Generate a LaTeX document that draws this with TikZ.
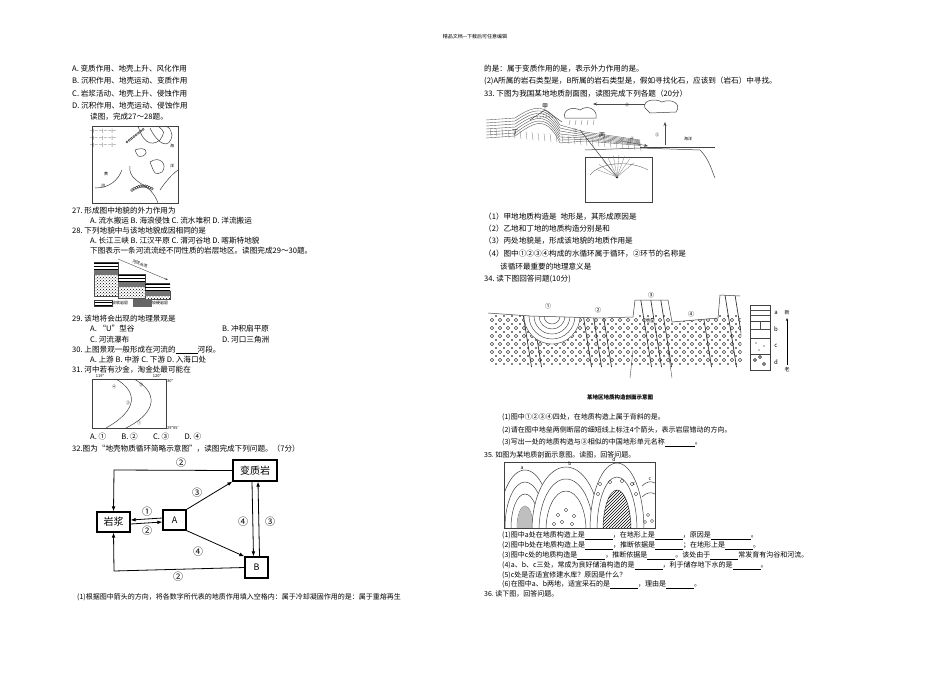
\documentclass[tikz,border=0pt]{standalone}
\usepackage{fontspec}
\setmainfont{Noto Sans CJK SC}
\usetikzlibrary{patterns,arrows.meta}
\begin{document}
\begin{tikzpicture}[x=1pt,y=-1pt,
  t/.style={anchor=west,inner sep=0pt,font=\fontsize{7.6}{8}\selectfont,text=black},
  ts/.style={anchor=west,inner sep=0pt,font=\fontsize{7}{8}\selectfont,text=black},
  tiny/.style={inner sep=0pt,font=\fontsize{4}{4}\selectfont},
  box/.style={draw,very thick,inner sep=2pt,minimum height=20pt},
  arr/.style={thick,-{Latex[length=5pt]}},
  lab/.style={inner sep=0pt,font=\fontsize{10}{10}\selectfont},
  fig/.style={draw=black!75,line width=0.5pt}]
\useasboundingbox (0,0) rectangle (950,672);
\fill[white] (0,0) rectangle (950,672);
\node[inner sep=0pt,font=\fontsize{5}{5}\selectfont] (hdr) at (475,37) {精品文档---下载后可任意编辑};
% ---------- left column ----------
\node[t] (l1) at (72,69) {A.\ 变质作用、地壳上升、风化作用};
\node[t] (l2) at (72,81) {B.\ 沉积作用、地壳运动、变质作用};
\node[t] (l3) at (72,94) {C.\ 岩浆活动、地壳上升、侵蚀作用};
\node[t] (l4) at (72,106) {D.\ 沉积作用、地壳运动、侵蚀作用};
\node[t] (l5) at (90,117) {读图，完成27～28题。};
% map
\draw[fig] (92,126) rectangle (178,203);
\foreach \yy in {131,138,145}{\node[tiny] at (103,\yy) {—|— —|— —|—};}
\draw[fig] (138,126) .. controls (142,140) and (150,148) .. (160,140) .. controls (165,132) .. (158,126);
\draw[fig] (150,128) .. controls (158,145) and (170,150) .. (172,135) .. controls (170,128) .. (165,126);
\draw[fig] (135,150) .. controls (145,146) and (150,152) .. (143,156) .. controls (138,157) .. (135,150);
\draw[fig] (150,162) .. controls (160,155) and (168,165) .. (162,172) .. controls (155,175) .. (150,162);
\draw[fig] (160,190) .. controls (168,178) and (175,172) .. (178,170);
\draw[fig] (122,170) .. controls (118,180) and (110,188) .. (95,188);
\draw[fig] (130,166) .. controls (128,178) and (140,182) .. (150,190) .. controls (155,196) .. (158,203);
\foreach \i in {0,...,9}{\draw[fig] ({132+2.2*\i},{190-4*sin(18*\i)}) circle (1.4);}
\foreach \i in {0,...,7}{\draw[fig] ({127+2.3*\i},{142-1.8*\i}) circle (1.1);}
\node[tiny] at (172,146) {海}; \node[tiny] at (172,166) {洋};
\node[tiny] at (106,174) {黄}; \node[tiny] at (103,186) {河};
\node[t] (q27) at (72,211) {27.\ 形成图中地貌的外力作用为};
\node[t] (q27a) at (90,221) {A.\ 流水搬运 B.\ 海浪侵蚀 C.\ 流水堆积 D.\ 洋流搬运};
\node[t] (q28) at (72,231) {28.\ 下列地貌中与该地地貌成因相同的是};
\node[t] (q28a) at (90,241) {A.\ 长江三峡 B.\ 江汉平原 C.\ 渭河谷地 D.\ 喀斯特地貌};
\node[t] (q29i) at (90,251) {下图表示一条河流流经不同性质的岩层地区。读图完成29～30题。};
% river step diagram
\foreach \xa/\xb/\ya/\yb in {94/118/262/296, 118/145/274/298, 145/170/283/299}{
  \fill[pattern=horizontal lines] (\xa,\ya) rectangle (\xb,{\ya+8});
  \fill[pattern=crosshatch dots,draw=black!70] (\xa,{\ya+8}) rectangle (\xb,\yb);
  \fill[black!55] (\xa,{\ya+8}) rectangle (\xb,{\ya+13});
}
\draw[fig] (94,262) -- (118,262) -- (118,274) -- (145,274) -- (145,283) -- (170,283);
\draw[-{Stealth[length=3pt]},black!70] (118,259) -- (168,280);
\node[tiny,rotate=-22] at (140,264) {河流水流};
\fill[pattern=horizontal lines] (94,300) rectangle (112,306); \draw[fig] (94,300) rectangle (112,306);
\node[tiny,anchor=west] at (112,303) {较软岩层};
\fill[black!60] (133,299) rectangle (152,307);
\node[tiny,anchor=west] at (152,303) {较硬岩层};
\node[t] (q29) at (72,319) {29.\ 该地将会出现的地理景观是};
\node[t] (q29a) at (90,329) {A.\ “U”型谷};
\node[t] (q29b) at (222,329) {B.\ 冲积扇平原};
\node[t] (q29c) at (90,340) {C.\ 河流瀑布};
\node[t] (q29d) at (222,340) {D.\ 河口三角洲};
\node[t] (q30) at (72,350) {30.\ 上图景观一般形成在河流的\underline{\hspace{22pt}}河段。};
\node[t] (q30a) at (90,360) {A.\ 上游 B.\ 中游 C.\ 下游 D.\ 入海口处};
\node[t] (q31) at (72,370) {31.\ 河中若有沙金，淘金处最可能在};
% latitude map
\draw[fig] (92,379) rectangle (166,428);
\node[tiny] at (100,376) {119°}; \node[tiny] at (157,376) {120°};
\node[tiny,anchor=west] at (167,381) {30°};
\node[tiny,anchor=west] at (167,428) {29°05′};
\draw[fig] (116,379) .. controls (138,392) and (138,410) .. (106,428);
\draw[fig] (134,379) .. controls (158,392) and (158,412) .. (126,428);
\node[tiny] at (114,387) {④}; \node[tiny] at (141,385) {③};
\node[tiny] at (128,403) {②}; \node[tiny] at (139,423) {①};
\node[t] (q31a) at (90,437) {A.\ ①\qquad B.\ ②\qquad C.\ ③\qquad D.\ ④};
\node[t] (q32) at (72,449) {32.图为“地壳物质循环简略示意图”，读图完成下列问题。（7分）};
% rock cycle
\node[box,minimum width=33pt,font=\fontsize{10}{10}\selectfont] (magma) at (113.5,522) {岩浆};
\node[box,minimum width=23pt,font=\fontsize{9}{9}\selectfont] (A) at (174.5,520) {A};
\node[box,minimum width=44pt,minimum height=21pt,font=\fontsize{10}{10}\selectfont] (meta) at (255,470.5) {变质岩};
\node[box,minimum width=23pt,minimum height=21pt,font=\fontsize{9}{9}\selectfont] (B) at (256.5,567.5) {B};
\coordinate (tl) at (114,470); \coordinate (bl) at (114,571);
\draw[arr] (meta.west) -- (tl) -- (magma.north);
\draw[arr] (B.west) -- (bl) -- (magma.south);
\draw[arr] ([yshift=-2pt]magma.east) -- ([yshift=-2pt]A.west);
\draw[arr] ([yshift=2pt]A.west) -- ([yshift=2pt]magma.east);
\draw[arr] (A.north east) -- (meta.south west);
\draw[arr] (A.south east) -- (B.north west);
\draw[arr] ([xshift=-3pt]meta.south) -- ([xshift=-3pt]B.north);
\draw[arr] ([xshift=3pt]B.north) -- ([xshift=3pt]meta.south);
\node[lab] at (181,463) {②}; \node[lab] at (178,577) {②};
\node[lab] at (147,512) {①}; \node[lab] at (147,531) {②};
\node[lab] at (197,493) {③}; \node[lab] at (198,552) {④};
\node[lab] at (243,522) {④}; \node[lab] at (270,522) {③};
\node[ts] (q32a) at (77,597) {(1)根据图中箭头的方向，将各数字所代表的地质作用填入空格内：属于冷却凝固作用的是：属于重熔再生};
% ---------- right column ----------
\node[t] (r1) at (484,69) {的是：属于变质作用的是，表示外力作用的是。};
\node[t] (r2) at (484,81) {(2)A所属的岩石类型是，B所属的岩石类型是，假如寻找化石，应该到（岩石）中寻找。};
\node[t] (r3) at (484,94) {33.\ 下图为我国某地地质剖面图，读图完成下列各题（20分）};
% cross section 33
\foreach \d in {0,3,...,18}{
 \draw[black!65,line width=0.4pt] (486,{120+\d}) -- (515,{118+\d}) .. controls (530,{108+\d}) and (545,{100+\d*0.6}) .. (560,{125+\d}) -- (585,{132+\d*0.5}) -- (640,{140+\d*0.3});}
\foreach \x in {490,496,...,640}{\draw[black!55,line width=0.3pt] (\x,{128+(\x-490)*0.1}) -- ++(1,8);}
\draw[fig] (530,120) -- (545,110) -- (562,122);
\fill[pattern=dots] (535,118) -- (545,111) -- (556,119) -- cycle;
\draw[fig] (585,150) -- (640,148) -- (700,150) .. controls (710,160) and (712,172) .. (715,178);
\draw[fig] (640,147) -- (715,147);
\draw[fig] (565,118) .. controls (562,110) and (572,106) .. (580,110) .. controls (588,104) and (598,110) .. (596,118) -- cycle;
\foreach \x in {570,576,...,594}{\draw[black!60,line width=0.3pt] (\x,120) -- ++(-1,5);}
\draw[fig] (645,108) .. controls (642,100) and (655,98) .. (662,102) .. controls (672,98) and (682,104) .. (676,112) -- (650,113) -- cycle;
\draw[-{Stealth[length=4pt]},black!70] (645,104) -- (593,104);
\draw[-{Stealth[length=4pt]},black!70] (665,145) -- (665,122);
\draw[-{Stealth[length=4pt]},black!70] (622,141) -- (648,146);
\draw[fig] (585,157) rectangle (652,202);
\draw[fig] (580,130) -- (617,177);
\fill (617,177) circle (1.3);
\foreach \a in {200,215,...,320}{\draw[black!50,line width=0.3pt] (617,177) -- ++(\a:22);}
\draw[black!60] (590,175) .. controls (600,162) and (630,160) .. (648,170);
\node[tiny,font=\fontsize{6}{6}\selectfont] at (545,106) {甲};
\node[tiny,font=\fontsize{6}{6}\selectfont] at (515,132) {丁};
\node[tiny,font=\fontsize{6}{6}\selectfont] at (602,135) {丙};
\node[tiny] at (575,131) {①};
\node[tiny] at (627,105) {②};
\node[tiny] at (657,135) {③};
\node[tiny] at (632,139) {④};
\node[tiny] at (688,139) {海洋};
\node[t] (r4) at (484,217) {（1）甲地地质构造是\enspace 地形是，其形成原因是};
\node[t] (r5) at (484,229) {（2）乙地和丁地的地质构造分别是和};
\node[t] (r6) at (484,241) {（3）丙处地貌是，形成该地貌的地质作用是};
\node[t] (r7) at (484,254) {（4）图中①②③④构成的水循环属于循环，②环节的名称是};
\node[t] (r8) at (500,267) {该循环最重要的地理意义是};
\node[t] (r9) at (484,279) {34.\ 读下图回答问题(10分)};
% section 34
\begin{scope}
\clip (488,313) -- (530,316) -- (600,318) -- (633,317) -- (635,300) -- (668,300) -- (672,322) -- (718,318) -- (720,295) -- (740,296) -- (742,367) -- (488,367) -- cycle;
\foreach \x in {492,500,...,740}{\foreach \y in {320,328,...,365}{\draw[black!75,line width=0.45pt] (\x,\y) circle (1.8);}}
\foreach \x in {496,504,...,740}{\foreach \y in {316,324,...,365}{\fill (\x,\y) circle (0.8);}}
\foreach \x in {520,530,580,590,600,640,650,660,700,725,735}{\draw[black!80,line width=0.7pt] (\x,295) -- ({\x+12},370);}
\foreach \r in {28,23,18,13,8}{\draw[black!80,fill=white] (552,316) ++(-\r,0) arc (180:0:{\r} and {\r});}
\end{scope}
\draw[fig] (488,313) -- (530,316) -- (600,318) -- (633,317) -- (635,300) -- (668,300) -- (672,322) -- (718,318) -- (720,295) -- (740,296);
\draw[black!70] (633,350) -- (630,378); \draw[black!70] (668,350) -- (672,378);
\node[tiny,font=\fontsize{6}{6}\selectfont] at (548,306) {①};
\node[tiny,font=\fontsize{6}{6}\selectfont] at (598,310) {②};
\node[tiny,font=\fontsize{6}{6}\selectfont] at (651,295) {③};
\node[tiny,font=\fontsize{6}{6}\selectfont] at (691,314) {④};
\node[tiny,font=\fontsize{5}{5}\selectfont,fill=white] at (650,321) {地垒};
\draw[fig] (750,305) rectangle (770,370);
\foreach \y in {321,338,354}{\draw[fig] (750,\y) -- (770,\y);}
\draw[black!70] (750,310) -- (770,310); \draw[black!70] (750,315) -- (770,315);
\draw[black!70] (750,329) -- (770,329); \draw[black!70] (760,321) -- (760,329);
\fill (756,343) circle (0.7); \fill (764,346) circle (0.7); \fill (759,350) circle (0.7);
\draw (755,360) circle (1.5); \draw (764,364) circle (1.5); \draw (760,357) circle (1.5);
\node[tiny,font=\fontsize{6}{6}\selectfont] at (776,313) {a};
\node[tiny,font=\fontsize{6}{6}\selectfont] at (776,329) {b};
\node[tiny,font=\fontsize{6}{6}\selectfont] at (776,346) {c};
\node[tiny,font=\fontsize{6}{6}\selectfont] at (776,362) {d};
\draw[-{Stealth[length=3pt]}] (787,365) -- (787,318);
\node[tiny,font=\fontsize{5}{5}\selectfont] at (787,313) {新};
\node[tiny,font=\fontsize{5}{5}\selectfont] at (787,370) {老};
\node[inner sep=0pt,font=\fontsize{5.5}{6}\selectfont\bfseries] (cap34) at (620,397) {某地区地质构造剖面示意图};
\node[ts] (s1) at (502,417) {(1)图中①②③④四处，在地质构造上属于背斜的是。};
\node[ts] (s2) at (502,430) {(2)请在图中地垒两侧断层的细短线上标注4个箭头，表示岩层错动的方向。};
\node[ts] (s3) at (502,443) {(3)写出一处的地质构造与③相似的中国地形单元名称\underline{\hspace{30pt}}。};
\node[ts] (q35) at (484,455) {35.\ 如图为某地质剖面示意图。读图，回答问题。};
% section 35
\begin{scope}
\clip (504,462) rectangle (655,528);
\foreach \w/\h in {26/58,20/46,14/34,8/22}{\draw[fig,fill=white] (525,528) ++(-\w,0) arc (180:360:{\w} and {\h});}
\fill[black!25] (517,528) arc (180:360:8 and 22) -- cycle;
\foreach \w/\h in {34/63,27/51,20/39}{\draw[fig,fill=white] (566,530) ++(-\w,0) arc (180:360:{\w} and {\h});}
\foreach \p in {(558,515),(566,510),(574,516),(562,522),(572,524),(554,524)}{\draw[black!75] \p circle (1.8);}
\foreach \w/\h in {27/67,20/53,14/40}{\draw[fig,fill=white] (617,530) ++(-\w,0) arc (180:360:{\w} and {\h});}
\fill[pattern=north east lines] (603,530) arc (180:360:14 and 40) -- cycle;
\foreach \p in {(600,484),(610,482),(622,481),(632,484),(598,494),(636,494)}{\draw[black!75] \p circle (1.8);}
\draw[fig] (642,486) .. controls (647,481) and (651,481) .. (655,483);
\draw[fig] (642,497) .. controls (647,492) and (651,492) .. (655,494);
\foreach \p in {(648,515),(652,521),(645,522)}{\draw[black!75] \p circle (1.6);}
\end{scope}
\draw[fig] (504,462) rectangle (655,528);
\node[tiny,font=\fontsize{5}{5}\selectfont] at (522,468) {a};
\node[tiny,font=\fontsize{5}{5}\selectfont] at (570,464) {b};
\node[tiny,font=\fontsize{5}{5}\selectfont] at (614,460) {d};
\node[tiny,font=\fontsize{5}{5}\selectfont] at (634,484) {c};
\node[tiny,font=\fontsize{5}{5}\selectfont] at (650,479) {c};
\node[ts] (u1) at (502,536) {(1)图中a处在地质构造上是\underline{\hspace{28pt}}，在地形上是\underline{\hspace{28pt}}，原因是\underline{\hspace{40pt}}。};
\node[ts] (u2) at (502,546) {(2)图中b处在地质构造上是\underline{\hspace{28pt}}，推断依据是\underline{\hspace{28pt}}；在地形上是\underline{\hspace{28pt}}。};
\node[ts] (u3) at (502,556) {(3)图中c处的地质构造是\underline{\hspace{28pt}}，推断依据是\underline{\hspace{28pt}}。该处由于\underline{\hspace{28pt}}常发育有沟谷和河流。};
\node[ts] (u4) at (502,566) {(4)a、b、c三处，常成为良好储油构造的是\underline{\hspace{28pt}}，利于储存地下水的是\underline{\hspace{28pt}}。};
\node[ts] (u5) at (502,575) {(5)c处是否适宜修建水库？原因是什么？};
\node[ts] (u6) at (502,585) {(6)在图中a、b两地，适宜采石的是\underline{\hspace{28pt}}，理由是\underline{\hspace{28pt}}。};
\node[ts] (q36) at (484,594) {36.\ 读下图，回答问题。};
\end{tikzpicture}
\end{document}
